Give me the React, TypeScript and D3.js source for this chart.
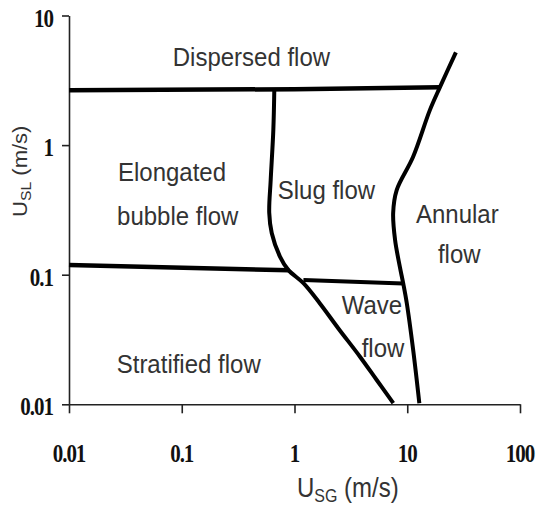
import { useEffect, useRef } from 'react';
import * as d3 from 'd3';

type Pt = [number, number];

// boundary lines, [U_SG, U_SL] in m/s
const dispersedBoundary: Pt[] = [[0.01, 2.65], [1, 2.7], [19.5, 2.8]];
const annularBoundary: Pt[] = [
  [27, 5.2], [19.5, 2.8], [15.9, 1.87], [11.25, 0.81], [8.06, 0.45], [7.5, 0.3],
  [7.8, 0.185], [8.6, 0.115], [9.2, 0.086], [9.9, 0.0605], [11.3, 0.026], [12.8, 0.0102],
];
const slugBoundary: Pt[] = [
  [0.662, 2.66], [0.649, 1.31], [0.615, 0.538], [0.597, 0.3], [0.628, 0.21],
  [0.743, 0.138], [0.88, 0.109], [1.2, 0.086], [1.68, 0.06], [2.45, 0.0385],
  [3.81, 0.0233], [5.36, 0.0154], [7.52, 0.0102],
];
const stratifiedBoundary: Pt[] = [[0.01, 0.119], [0.9, 0.108]];
const waveBoundary: Pt[] = [[1.2, 0.091], [9.2, 0.0855]];

const xTicks = [0.01, 0.1, 1, 10, 100];
const yTicks = [0.01, 0.1, 1, 10];
const tickLabels = ['0.01', '0.1', '1', '10', '100'];

// region names, placed at [U_SG, U_SL] of the text's left baseline
const regionNames: { text: string; at: Pt }[] = [
  { text: 'Dispersed flow', at: [0.0832, 4.05] },
  { text: 'Elongated', at: [0.0272, 0.53] },
  { text: 'bubble flow', at: [0.0267, 0.243] },
  { text: 'Slug flow', at: [0.71, 0.381] },
  { text: 'Annular', at: [11.96, 0.25] },
  { text: 'flow', at: [18.7, 0.123] },
  { text: 'Wave', at: [2.62, 0.0497] },
  { text: 'flow', at: [3.94, 0.023] },
  { text: 'Stratified flow', at: [0.0265, 0.0174] },
];

const App = () => {
  const ref = useRef<SVGSVGElement>(null);

  useEffect(() => {
    if (!ref.current) return;
    const svg = d3.select(ref.current);
    svg.selectAll('*').remove();

    const x = d3.scaleLog().domain([0.01, 100]).range([69, 520]);
    const y = d3.scaleLog().domain([0.01, 10]).range([404.3, 15.5]);
    const sy = 1.15; // text is a bit taller than it is wide

    // axes
    const xAxis = svg.append('g')
      .attr('transform', `translate(0,${y(0.01)})`)
      .call(d3.axisBottom(x).tickValues(xTicks).tickSize(9).tickSizeOuter(0).tickFormat(() => ''));
    const yAxis = svg.append('g')
      .attr('transform', `translate(${x(0.01)},0)`)
      .call(d3.axisLeft(y).tickValues(yTicks).tickSize(7).tickSizeOuter(0).tickFormat(() => ''));
    [xAxis, yAxis].forEach((g) => {
      g.select('.domain').attr('stroke', '#222').attr('stroke-width', 1.6);
      g.selectAll('.tick line').attr('stroke', '#222').attr('stroke-width', 1.6);
    });

    const tickFont = (sel: d3.Selection<SVGTextElement, any, any, any>) =>
      sel.attr('font-family', '"Liberation Serif", serif')
        .attr('font-weight', 'bold')
        .attr('font-size', 21)
        .attr('letter-spacing', -1)
        .attr('fill', '#111');

    xTicks.forEach((t, i) => {
      svg.append('text')
        .attr('transform', `translate(${x(t)},462) scale(1,${sy})`)
        .attr('text-anchor', 'middle')
        .call(tickFont)
        .text(tickLabels[i]);
    });
    yTicks.forEach((t, i) => {
      svg.append('text')
        .attr('transform', `translate(53,${y(t) + 11}) scale(1,${sy})`)
        .attr('text-anchor', 'end')
        .call(tickFont)
        .text(tickLabels[i]);
    });

    // boundaries
    const straight = d3.line<Pt>().x((d) => x(d[0])).y((d) => y(d[1]));
    const smooth = d3.line<Pt>().x((d) => x(d[0])).y((d) => y(d[1])).curve(d3.curveCatmullRom);
    const lines: [Pt[], boolean, number][] = [
      [dispersedBoundary, false, 4.5],
      [stratifiedBoundary, false, 4.5],
      [waveBoundary, false, 4],
      [annularBoundary, true, 4],
      [slugBoundary, true, 4],
    ];
    lines.forEach(([pts, curved, w]) => {
      svg.append('path')
        .attr('d', (curved ? smooth : straight)(pts))
        .attr('fill', 'none')
        .attr('stroke', '#000')
        .attr('stroke-width', w)
        .attr('stroke-linejoin', 'round');
    });

    // region names
    regionNames.forEach((r) => {
      svg.append('text')
        .attr('transform', `translate(${x(r.at[0])},${y(r.at[1])}) scale(1,${sy * 0.96})`)
        .attr('font-family', '"Liberation Sans", Arial, sans-serif')
        .attr('font-size', 24)
        .attr('fill', '#333')
        .text(r.text);
    });

    // axis titles
    const xt = svg.append('text')
      .attr('transform', `translate(297,497) scale(1,${sy})`)
      .attr('font-family', '"Liberation Sans", Arial, sans-serif')
      .attr('font-size', 24)
      .attr('fill', '#333');
    xt.append('tspan').text('U');
    xt.append('tspan').attr('font-size', 16).attr('dy', 4).text('SG');
    xt.append('tspan').attr('dy', -4).text(' (m/s)');

    const yt = svg.append('text')
      .attr('transform', `translate(27,217) rotate(-90) scale(1.05,1)`)
      .attr('font-family', '"Liberation Sans", Arial, sans-serif')
      .attr('font-size', 21)
      .attr('fill', '#333');
    yt.append('tspan').text('U');
    yt.append('tspan').attr('font-size', 15).attr('dy', 4).text('SL');
    yt.append('tspan').attr('dy', -4).text(' (m/s)');
  }, []);

  return (
    <div style={{ position: 'absolute', left: 0, top: 0 }}>
      <svg ref={ref} width={539} height={506} style={{ display: 'block', background: '#fff' }} />
    </div>
  );
};

export default App;
